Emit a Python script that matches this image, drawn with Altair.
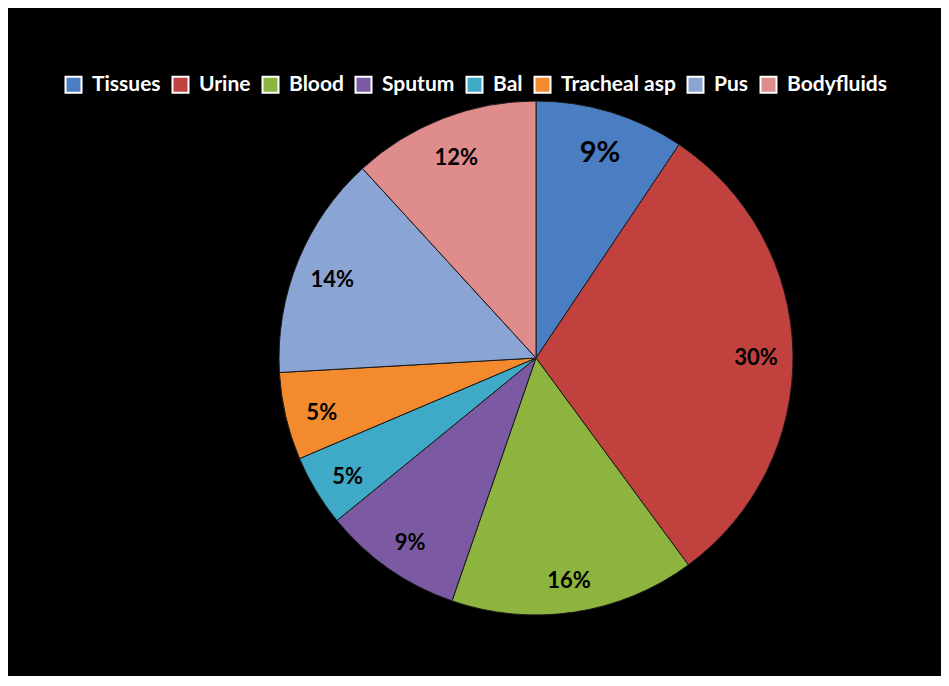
import altair as alt
import pandas as pd

categories = ["Tissues", "Urine", "Blood", "Sputum", "Bal", "Tracheal asp", "Pus", "Bodyfluids"]
values = [9.4, 30.5, 15.4, 8.8, 4.5, 5.5, 14.1, 11.8]
labels = ["9%", "30%", "16%", "9%", "5%", "5%", "14%", "12%"]
label_sizes = [29, 22, 22, 22, 22, 22, 22, 22]
colors = ["#4A7DC2", "#C0413E", "#8DB43E", "#7B5AA3", "#3FAAC8", "#F38B2E", "#8AA4D3", "#DF8C8C"]

df = pd.DataFrame({
    "category": categories,
    "value": values,
    "label": labels,
    "size": label_sizes,
    "order": list(range(len(categories))),
})

W, H = 933, 668
CX, CY = 528, 350

color = alt.Color(
    "category:N",
    sort=categories,
    scale=alt.Scale(domain=categories, range=colors),
    legend=alt.Legend(
        orient="none",
        legendX=55,
        legendY=66,
        direction="horizontal",
        title=None,
        symbolType="square",
        symbolSize=256,
        symbolStrokeColor="white",
        symbolStrokeWidth=2,
        symbolOpacity=1,
        labelColor="white",
        labelFont="Lato",
        labelFontWeight="bold",
        labelFontSize=21,
        labelOffset=8,
        columnPadding=7,
        labelLimit=300,
    ),
)

base = alt.Chart(df).encode(
    theta=alt.Theta("value:Q", stack=True),
    order=alt.Order("order:Q"),
    x=alt.value(CX),
    y=alt.value(CY),
)

pie = base.mark_arc(outerRadius=257, stroke="#1a1a1a", strokeWidth=1).encode(color=color)

text = base.mark_text(
    radius=220, dy=5, font="Lato", fontWeight="bold", color="black"
).encode(
    text="label:N",
    size=alt.Size("size:Q", scale=None, legend=None),
)

chart = (
    alt.layer(pie, text)
    .properties(width=W, height=H, padding=0, background="black")
    .configure_view(stroke=None, fill="black")
)

chart.save("out.html", embed_options={"renderer": "svg", "actions": False})
